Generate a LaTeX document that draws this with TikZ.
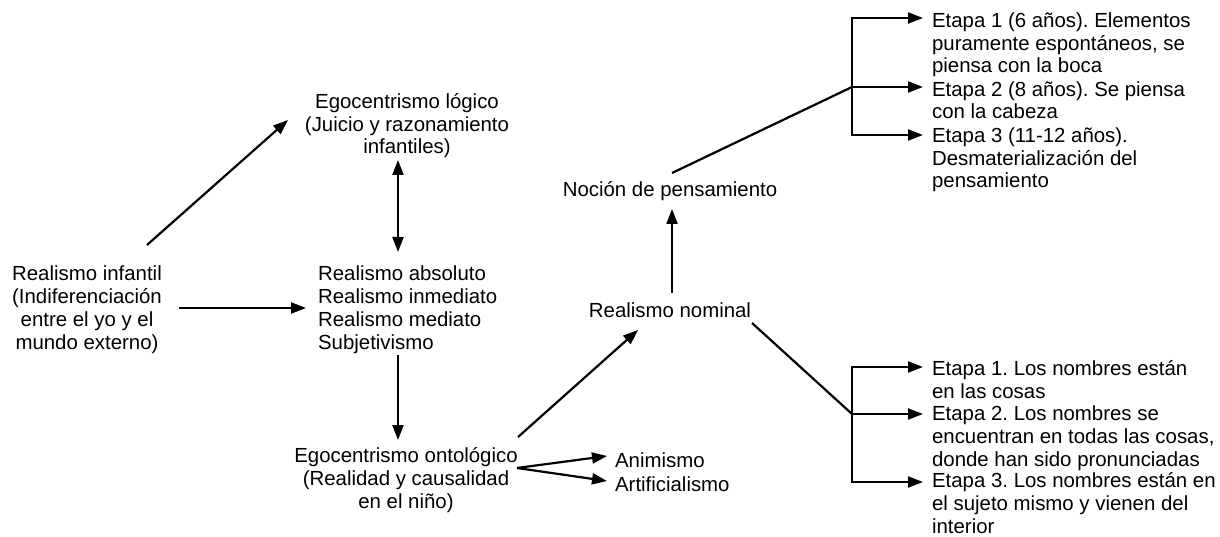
\documentclass[tikz,border=0pt]{standalone}
\usepackage{fontspec}
\setmainfont{Liberation Sans}
\usetikzlibrary{arrows.meta,calc}
\frenchspacing

\begin{document}
\begin{tikzpicture}[x=1pt,y=-1pt,line width=2.2pt,>={Triangle[length=15pt,width=11pt]},
	every node/.style={inner sep=0pt,font=\fontsize{20.4}{22.8}\selectfont}]
	\useasboundingbox (0,0) rectangle (1220,537);
	% Realismo infantil y sus derivados
	\node[align=center,anchor=base] (infantil) at (87,349) {Realismo infantil\\(Indiferenciación\\entre el yo y el\\mundo externo)};
	\node[align=center,anchor=base] (logico) at (407,154) {Egocentrismo lógico\\(Juicio y razonamiento\\infantiles)};
	\node[align=left,anchor=base west] (absoluto) at (317,349) {Realismo absoluto\\Realismo inmediato\\Realismo mediato\\Subjetivismo};
	\node[align=center,anchor=base] (ontologico) at (406,508) {Egocentrismo ontológico\\(Realidad y causalidad\\en el niño)};
	\node[anchor=base west] (animismo) at (614,467) {Animismo};
	\node[anchor=base west] (artificialismo) at (614,491) {Artificialismo};
	\node[anchor=base] (nominal) at (670,317) {Realismo nominal};
	\node[anchor=base] (nocion) at (670,197) {Noción de pensamiento};
	% Etapas
	\node[align=left,anchor=base west] (etapaA1) at (931,73) {Etapa 1 (6 años). Elementos\\puramente espontáneos, se\\piensa con la boca};
	\node[align=left,anchor=base west] (etapaA2) at (931,119) {Etapa 2 (8 años). Se piensa\\con la cabeza};
	\node[align=left,anchor=base west] (etapaA3) at (931,188) {Etapa 3 (11-12 años).\\Desmaterialización del\\pensamiento};
	\node[align=left,anchor=base west] (etapaB1) at (931,398) {Etapa 1. Los nombres están\\en las cosas};
	\node[align=left,anchor=base west] (etapaB2) at (931,466) {Etapa 2. Los nombres se\\encuentran en todas las cosas,\\donde han sido pronunciadas};
	\node[align=left,anchor=base west] (etapaB3) at (931,533) {Etapa 3. Los nombres están en\\el sujeto mismo y vienen del\\interior};
	% Flechas
	\draw[->] ($(infantil.base)+(60,-104)$) -- ($(logico.base)+(-119,-34)$);
	\draw[->] ($(infantil.base)+(92,-41)$) -- ($(absoluto.base west)+(-11,-41)$);
	\draw[<->] ($(logico.base)+(-9,6)$) -- ($(absoluto.base west)+(81,-97)$);
	\draw[->] ($(absoluto.base west)+(81,6)$) -- ($(ontologico.base)+(-8,-68)$);
	\draw[->] ($(ontologico.base)+(111,-40)$) -- ($(animismo.base west)+(-7,-11)$);
	\draw[->] ($(ontologico.base)+(111,-40)$) -- ($(artificialismo.base west)+(-7,-10)$);
	\draw[->] ($(ontologico.base)+(112,-71)$) -- ($(nominal.base)+(-32,13)$);
	\draw[->] ($(nominal.base)+(2,-24)$) -- ($(nocion.base)+(2,12)$);
	% Noción de pensamiento
	\coordinate (ramaA) at ($(etapaA2.base west)+(-79,-32)$);
	\draw ($(nocion.base)+(2,-24)$) -- (ramaA);
	\draw[->] (ramaA) |- ($(etapaA1.base west)+(-8,-55)$);
	\draw[->] (ramaA) -- ($(etapaA2.base west)+(-8,-32)$);
	\draw[->] (ramaA) |- ($(etapaA3.base west)+(-8,-53)$);
	% Realismo nominal
	\coordinate (ramaB) at ($(etapaB2.base west)+(-79,-52)$);
	\draw ($(nominal.base)+(82,6)$) -- (ramaB);
	\draw[->] (ramaB) |- ($(etapaB1.base west)+(-8,-31)$);
	\draw[->] (ramaB) -- ($(etapaB2.base west)+(-8,-52)$);
	\draw[->] (ramaB) |- ($(etapaB3.base west)+(-8,-51)$);
\end{tikzpicture}
\end{document}
